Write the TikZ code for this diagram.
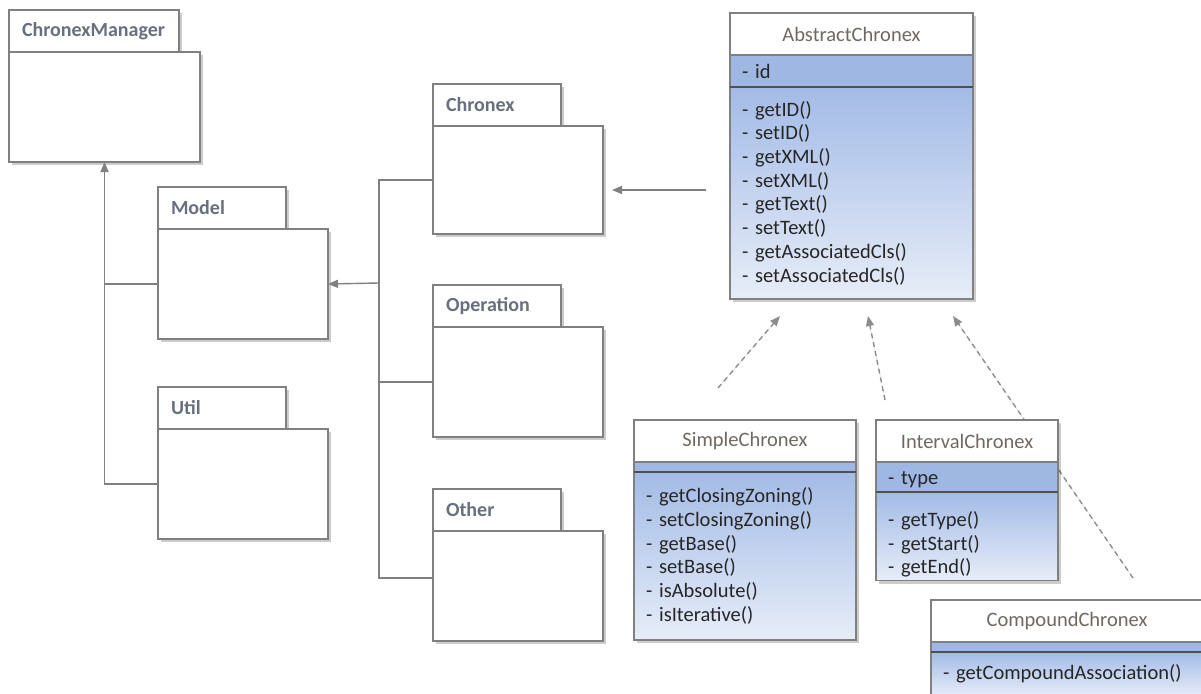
\documentclass[tikz,border=0pt]{standalone}
\usepackage{fontspec}
\setmainfont{Carlito}
\usetikzlibrary{arrows.meta,shadows,backgrounds}

\definecolor{linegray}{RGB}{128,128,128}
\definecolor{dashgray}{RGB}{140,140,140}
\definecolor{sepgray}{RGB}{80,80,80}
\definecolor{pkgtext}{RGB}{104,112,128}
\definecolor{titletext}{RGB}{112,104,98}
\definecolor{methtext}{RGB}{38,38,38}
\definecolor{bandblue}{RGB}{158,183,227}
\definecolor{opstop}{RGB}{163,187,230}
\definecolor{opsbottom}{RGB}{231,237,248}

\begin{document}
\begin{tikzpicture}[x=1pt, y=-1pt,
  font=\fontsize{20.5}{23.7}\selectfont,
  shadowed/.style={drop shadow={shadow xshift=3pt, shadow yshift=-3pt, opacity=0.2, fill=black}},
  pkgtab/.style={shadowed, draw=linegray, line width=1.3pt, fill=white, outer sep=0pt, anchor=north west, minimum height=42pt, inner xsep=13pt, text width=102pt, align=left, text=pkgtext, font=\fontsize{20}{23.7}\selectfont\bfseries},
  pkgbody/.style={shadowed, draw=linegray, line width=1.3pt, fill=white, outer sep=0pt, anchor=north west, minimum width=170pt, minimum height=110pt},
  clstitle/.style={shadowed, draw=linegray, line width=1.2pt, fill=white, outer sep=0pt, anchor=north west, minimum height=42pt, inner xsep=12pt, text width=#1, align=center, text=titletext},
  clsattr/.style={shadowed, draw=linegray, line width=1.2pt, fill=bandblue, outer sep=0pt, anchor=north west, inner xsep=12pt, inner ysep=2pt, text width=#1, align=left, text=methtext},
  clsops/.style={shadowed, draw=linegray, line width=1.2pt, top color=opstop, bottom color=opsbottom, outer sep=0pt, anchor=north west, inner xsep=12pt, text width=#1, align=left, text=methtext},
  sepline/.style={draw=sepgray, line width=1.5pt},
  link/.style={draw=linegray, line width=1.4pt},
  arrow/.style={link, -{Triangle[length=10pt, width=8pt]}},
  genarrow/.style={arrow, draw=dashgray, fill=dashgray, dash pattern=on 5pt off 4pt}
]
\path[use as bounding box, clip] (0,0) rectangle (1201,693);

% packages
\node[pkgtab, text width=144pt] (mgrTab) at (9,10) {ChronexManager};
\node[pkgbody, minimum width=191pt] (mgr) at (mgrTab.south west) {};
\node[pkgtab] (modelTab) at (158,187) {Model};
\node[pkgbody] (model) at (modelTab.south west) {};
\node[pkgtab] (utilTab) at (158,387) {Util};
\node[pkgbody] (util) at (utilTab.south west) {};
\node[pkgtab] (chronexTab) at (433,84) {Chronex};
\node[pkgbody, minimum height=108pt] (chronex) at (chronexTab.south west) {};
\node[pkgtab] (operationTab) at (433,285) {Operation};
\node[pkgbody] (operation) at (operationTab.south west) {};
\node[pkgtab] (otherTab) at (433,489) {Other};
\node[pkgbody] (other) at (otherTab.south west) {};

% classes
\node[clstitle=219pt] (acTitle) at (730,13) {AbstractChronex};
\node[clsattr=219pt, minimum height=32pt] (acAttr) at (acTitle.south west) {- id};
\node[clsops=219pt, minimum height=212pt] (acOps) at (acAttr.south west) {- getID()\\- setID()\\- getXML()\\- setXML()\\- getText()\\- setText()\\- getAssociatedCls()\\- setAssociatedCls()};
\draw[sepline] (acOps.north west) -- (acOps.north east);

\node[clstitle=198pt] (scTitle) at (634,420) {SimpleChronex};
\node[clsattr=198pt, minimum height=10pt] (scAttr) at (scTitle.south west) {};
\node[clsops=198pt, minimum height=168pt] (scOps) at (scAttr.south west) {- getClosingZoning()\\- setClosingZoning()\\- getBase()\\- setBase()\\- isAbsolute()\\- isIterative()};
\draw[sepline] (scOps.north west) -- (scOps.north east);

\node[clstitle=158pt] (icTitle) at (876,420) {IntervalChronex};
\node[clsattr=158pt, minimum height=30pt] (icAttr) at (icTitle.south west) {\rule{0pt}{19pt}- type};
\node[clsops=158pt, minimum height=86pt] (icOps) at (icAttr.south west) {\rule{0pt}{31pt}- getType()\\- getStart()\\- getEnd()};
\draw[sepline] (icOps.north west) -- (icOps.north east);

\node[clstitle=248pt] (ccTitle) at (931,600) {CompoundChronex};
\node[clsattr=248pt, minimum height=10pt] (ccAttr) at (ccTitle.south west) {};
\node[clsops=248pt, minimum height=44pt] (ccOps) at (ccAttr.south west) {- getCompoundAssociation()};
\draw[sepline] (ccOps.north west) -- (ccOps.north east);

% connectors
\coordinate (bus) at (379,283);
\draw[link] (chronex.west) -| (bus) |- ([yshift=8pt]other.west);
\draw[link] (operation.west) -- (operation.west -| bus);
\draw[arrow] (bus) -- (model.east);
\draw[link] (model.west) -- (model.west -| mgr.south);
\draw[arrow] (util.west) -| (mgr.south);

\coordinate (acFrom) at (706,190);
\draw[arrow, shorten >=9pt] (acFrom) -- (acFrom -| chronex.east);

\coordinate (scFrom) at (718,388);
\coordinate (scTo) at (780,316);
\coordinate (icFrom) at (885,400);
\coordinate (icTo) at (868,316);
\coordinate (ccFrom) at (1133,578);
\coordinate (ccTo) at (953,316);
\draw[genarrow] (scFrom) -- (scTo);
\draw[genarrow] (icFrom) -- (icTo);
\begin{pgfonlayer}{background}
  \fill[white] (0,0) rectangle (1201,693);
  \draw[genarrow] (ccFrom) -- (ccTo);
\end{pgfonlayer}
\end{tikzpicture}
\end{document}
